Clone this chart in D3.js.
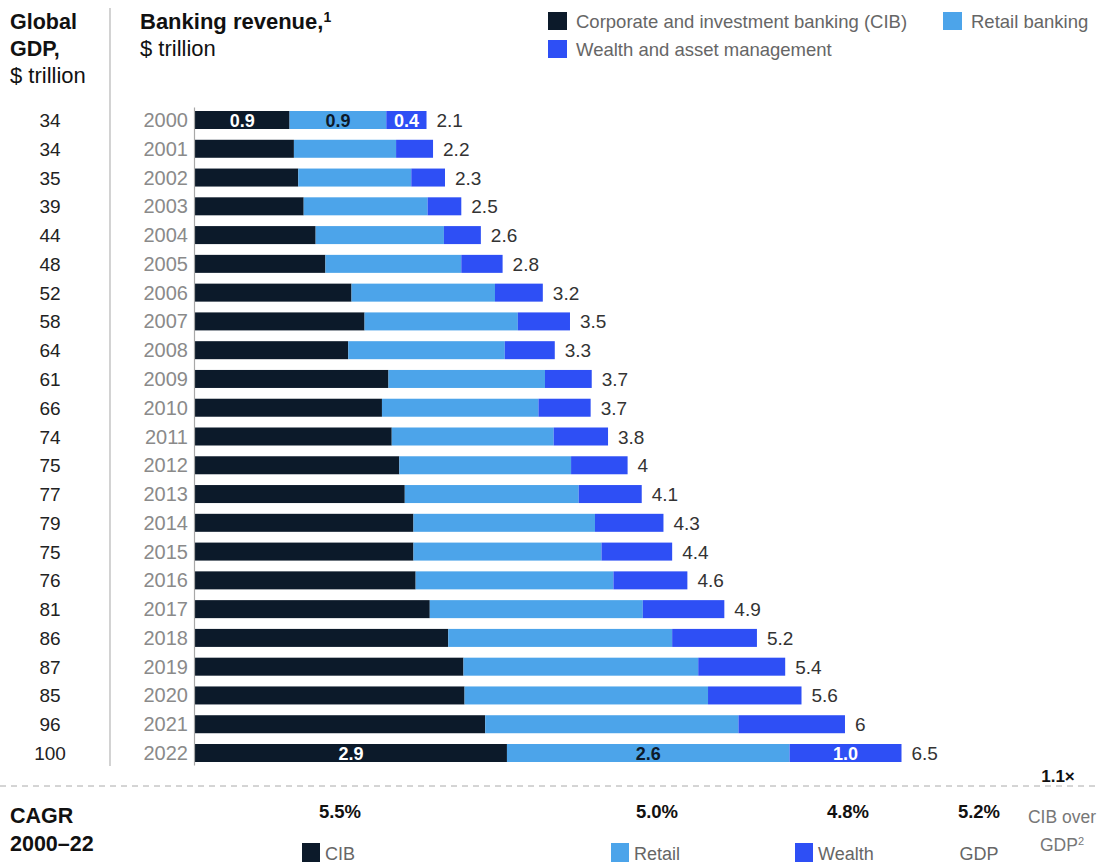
<!DOCTYPE html>
<html><head><meta charset="utf-8">
<script src="https://cdn.jsdelivr.net/npm/d3@7"></script>
<style>
html,body{margin:0;padding:0;background:#fff;}
svg{display:block;font-family:"Liberation Sans",Arial,Helvetica,sans-serif;}
</style></head>
<body>
<script>
const years = ["2000","2001","2002","2003","2004","2005","2006","2007","2008","2009","2010","2011","2012","2013","2014","2015","2016","2017","2018","2019","2020","2021","2022"];
const gdp = [34,34,35,39,44,48,52,58,64,61,66,74,75,77,79,75,76,81,86,87,85,96,100];
const cib =    [0.87,0.91,0.95,1.00,1.11,1.20,1.44,1.56,1.41,1.78,1.72,1.81,1.88,1.93,2.01,2.01,2.03,2.16,2.33,2.47,2.48,2.67,2.87];
const retail = [0.89,0.94,1.04,1.14,1.18,1.25,1.32,1.41,1.44,1.44,1.44,1.49,1.58,1.60,1.67,1.73,1.82,1.96,2.06,2.16,2.24,2.33,2.60];
const wealth = [0.37,0.34,0.31,0.31,0.34,0.38,0.44,0.48,0.46,0.43,0.48,0.50,0.52,0.58,0.63,0.65,0.68,0.75,0.78,0.80,0.86,0.98,1.03];
const totalLabels = ["2.1","2.2","2.3","2.5","2.6","2.8","3.2","3.5","3.3","3.7","3.7","3.8","4","4.1","4.3","4.4","4.6","4.9","5.2","5.4","5.6","6","6.5"];
const segmentLabels = {"2000":["0.9","0.9","0.4"],"2022":["2.9","2.6","1.0"]};
const seriesNames = ["Corporate and investment banking (CIB)","Retail banking","Wealth and asset management"];
const shortNames = ["CIB","Retail","Wealth"];
const cagr = ["5.5%","5.0%","4.8%"];
const gdpCagr = "5.2%";
const cibOverGdp = "1.1×";
const colors = ["#0c1a2a","#4ca4ea","#2e4ff5"];
const labelColors = ["#ffffff","#0c1a2a","#ffffff"];

const W = 1097, H = 863;
const svg = d3.select("body").append("svg").attr("width",W).attr("height",H);

const x = d3.scaleLinear().domain([0,6.5]).range([195,901.5]);
const y = d3.scalePoint().domain(years).range([120,753]);
const barH = 18;

const rows = years.map((yr,i)=>({year:yr, vals:[cib[i],retail[i],wealth[i]], gdp:gdp[i], total:totalLabels[i]}));

// header
const hdr = svg.append("g");
hdr.append("text").attr("x",10).attr("y",29).attr("font-size",21.5).attr("font-weight","bold").attr("fill","#111").text("Global");
hdr.append("text").attr("x",10).attr("y",56).attr("font-size",21.5).attr("font-weight","bold").attr("fill","#111").text("GDP,");
hdr.append("text").attr("x",10).attr("y",83).attr("font-size",22).attr("fill","#111").text("$ trillion");
const br = hdr.append("text").attr("x",140).attr("y",29).attr("font-size",22).attr("font-weight","bold").attr("fill","#111");
br.append("tspan").text("Banking revenue,");
br.append("tspan").attr("font-size",14).attr("dy",-7).text("1");
hdr.append("text").attr("x",140).attr("y",56).attr("font-size",22).attr("fill","#111").text("$ trillion");

// separator
svg.append("line").attr("x1",110).attr("x2",110).attr("y1",8).attr("y2",766).attr("stroke","#b5b5b5").attr("stroke-width",1.2);

// legend
const leg = [{i:0,x:548,y:12},{i:1,x:943,y:12},{i:2,x:548,y:40}];
leg.forEach(l=>{
  svg.append("rect").attr("x",l.x).attr("y",l.y).attr("width",19).attr("height",18).attr("fill",colors[l.i]);
  svg.append("text").attr("x",l.x+28).attr("y",l.y+15.5).attr("font-size",18.5).attr("fill","#666").text(seriesNames[l.i]);
});

// bars
const g = svg.append("g");
rows.forEach(r=>{
  let acc = 0;
  r.vals.forEach((v,k)=>{
    const x0 = x(acc), x1 = x(acc+v);
    g.append("rect").attr("x",x0).attr("y",y(r.year)-barH/2).attr("width",x1-x0).attr("height",barH).attr("fill",colors[k]);
    if (segmentLabels[r.year]) {
      g.append("text").attr("x",(x0+x1)/2).attr("y",y(r.year)+6.5).attr("text-anchor","middle")
        .attr("font-size",18).attr("font-weight","bold").attr("fill",labelColors[k]).text(segmentLabels[r.year][k]);
    }
    acc += v;
  });
  g.append("text").attr("x",x(acc)+10).attr("y",y(r.year)+7).attr("font-size",19).attr("fill","#333").text(r.total);
  g.append("text").attr("x",188).attr("y",y(r.year)+7).attr("text-anchor","end").attr("font-size",20).attr("fill","#8a8a8a").text(r.year);
  g.append("text").attr("x",50).attr("y",y(r.year)+7).attr("text-anchor","middle").attr("font-size",19).attr("fill","#222").text(r.gdp);
});

// axis line
const yAxis = d3.axisLeft(d3.scaleLinear().range([107,765])).ticks(0).tickSize(0);
svg.append("g").attr("transform","translate(194,0)").call(yAxis).call(a=>a.select(".domain").attr("stroke","#a8a8a8").attr("stroke-width",1.2));

// dashed divider
svg.append("line").attr("x1",0).attr("x2",W).attr("y1",786).attr("y2",786).attr("stroke","#aaa").attr("stroke-width",1).attr("stroke-dasharray","6,5");
svg.append("text").attr("x",1058).attr("y",782).attr("text-anchor","middle").attr("font-size",17).attr("font-weight","bold").attr("fill","#111").text(cibOverGdp);

// CAGR
svg.append("text").attr("x",10).attr("y",823).attr("font-size",21.5).attr("font-weight","bold").attr("fill","#111").text("CAGR");
svg.append("text").attr("x",10).attr("y",851).attr("font-size",21.5).attr("font-weight","bold").attr("fill","#111").text("2000–22");

const cagrPos = [{cx:340, sq:302},{cx:657, sq:611},{cx:848, sq:795}];
cagrPos.forEach((p,k)=>{
  svg.append("text").attr("x",p.cx).attr("y",818).attr("text-anchor","middle").attr("font-size",18.5).attr("font-weight","bold").attr("fill","#111").text(cagr[k]);
  svg.append("rect").attr("x",p.sq).attr("y",843).attr("width",18).attr("height",19).attr("fill",colors[k]);
  svg.append("text").attr("x",p.sq+23).attr("y",860).attr("font-size",18).attr("fill","#666").text(shortNames[k]);
});
svg.append("text").attr("x",979).attr("y",818).attr("text-anchor","middle").attr("font-size",18.5).attr("font-weight","bold").attr("fill","#111").text(gdpCagr);
svg.append("text").attr("x",979).attr("y",860).attr("text-anchor","middle").attr("font-size",18).attr("fill","#666").text("GDP");
svg.append("text").attr("x",1062).attr("y",823).attr("text-anchor","middle").attr("font-size",17.5).attr("fill","#777").text("CIB over");
const gd = svg.append("text").attr("x",1062).attr("y",851).attr("text-anchor","middle").attr("font-size",17.5).attr("fill","#777");
gd.append("tspan").text("GDP");
gd.append("tspan").attr("font-size",11).attr("dy",-6).text("2");
</script>
</body></html>
